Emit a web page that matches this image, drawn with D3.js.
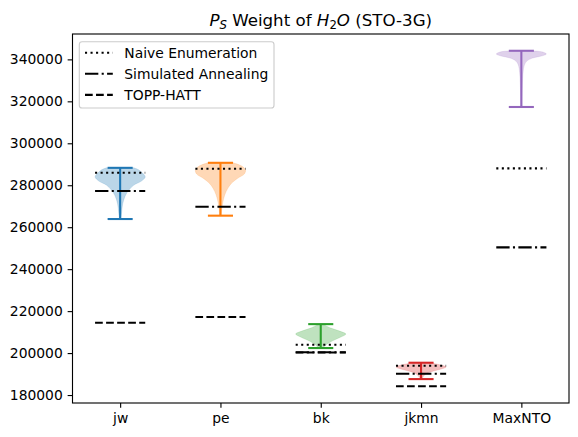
<!DOCTYPE html>
<html>
<head>
<meta charset="utf-8">
<script src="https://cdn.jsdelivr.net/npm/d3@7"></script>
<style>
body { margin: 0; background: #fff; }
text { font-family: "DejaVu Sans", sans-serif; fill: #000; }
</style>
</head>
<body>
<div id="chart"></div>
<script>
var categories = ["jw", "pe", "bk", "jkmn", "MaxNTO"]
var colors = ["#1f77b4", "#ff7f0e", "#2ca02c", "#d62728", "#9467bd"]

// extremes of each violin (the caps)
var sample_min = [263900, 265500, 202400, 187600, 317300]
var sample_max = [288300, 290700, 213800, 195400, 344100]

// reference results drawn as horizontal lines (null = no value)
var naive_enum = [285960, 287870, 203980, 193960, 288060]
var sim_anneal = [277240, 269760, 200400, 190150, 250400]
var topp_hatt = [214460, 217170, 200300, 184200, null]

// violin outlines: [value, relative half width]
var profile_jw = [[288300, 0.55], [287250, 0.75], [285340, 0.93], [283910, 1.0], [282000, 0.85],
  [280100, 0.55], [277720, 0.35], [274860, 0.2], [271040, 0.1], [267230, 0.06], [263900, 0.03]]
var profile_pe = [[290700, 0.5], [289150, 0.85], [287250, 1.0], [285340, 0.95], [283430, 0.7],
  [281050, 0.45], [278660, 0.3], [275330, 0.17], [271520, 0.09], [268180, 0.05], [265500, 0.03]]
var profile_bk = [[213800, 0.08], [211930, 0.4], [210500, 0.75], [209070, 1.0], [207640, 0.8],
  [205730, 0.45], [203830, 0.2], [202400, 0.08]]
var profile_jkmn = [[195400, 0.3], [194290, 0.8], [193340, 1.0], [192390, 0.8], [191440, 0.5],
  [190490, 0.25], [189050, 0.1], [187600, 0.04]]
var profile_maxnto = [[344100, 0.4], [343500, 0.85], [342550, 1.0], [341590, 0.8], [340640, 0.45],
  [339210, 0.22], [337300, 0.12], [333970, 0.07], [327770, 0.04], [320620, 0.025], [317300, 0.02]]
var profiles = [profile_jw, profile_pe, profile_bk, profile_jkmn, profile_maxnto]

var y_ticks = d3.range(180000, 340001, 20000)

var width = 578
var height = 437
var margin = {left: 72.5, right: 9, top: 34, bottom: 34}
var pt = 100 / 72 // matplotlib points -> pixels
var lw = 1.5 * pt

var svg = d3.select("#chart")
  .append("svg")
    .attr("width", width)
    .attr("height", height)

// x: positions 1..5, widths 0.5, matplotlib 5% margins
var x = d3.scaleLinear()
  .domain([0.75 - 0.225, 5.25 + 0.225])
  .range([margin.left, width - margin.right])

var all_vals = sample_min.concat(sample_max, naive_enum, sim_anneal, topp_hatt.filter(function(d) { return d != null }))
var lo = d3.min(all_vals), hi = d3.max(all_vals)
var pad = (hi - lo) * 0.05
var y = d3.scaleLinear()
  .domain([lo - pad, hi + pad])
  .range([height - margin.bottom, margin.top])

// violins
var area = d3.area()
  .y(function(d) { return y(d[0]) })
  .curve(d3.curveCatmullRom)

profiles.forEach(function(prof, i) {
  var pos = i + 1
  area.x0(function(d) { return x(pos - 0.25 * d[1]) })
      .x1(function(d) { return x(pos + 0.25 * d[1]) })
  svg.append("path")
    .attr("d", area(prof))
    .attr("fill", colors[i])
    .attr("fill-opacity", 0.3)
    .attr("stroke", colors[i])
    .attr("stroke-opacity", 0.3)
    .attr("stroke-width", 0.5)
})

// bars and caps
categories.forEach(function(c, i) {
  var pos = i + 1
  var g = svg.append("g").attr("stroke", colors[i]).attr("stroke-width", lw)
  g.append("line")
    .attr("x1", x(pos)).attr("x2", x(pos))
    .attr("y1", y(sample_min[i])).attr("y2", y(sample_max[i]))
  ;[sample_min[i], sample_max[i]].forEach(function(v) {
    g.append("line")
      .attr("x1", x(pos - 0.125)).attr("x2", x(pos + 0.125))
      .attr("y1", y(v)).attr("y2", y(v))
  })
})

// method lines
var methods = [
  {name: "Naive Enumeration", values: naive_enum, dash: [1 * lw, 1.65 * lw]},
  {name: "Simulated Annealing", values: sim_anneal, dash: [6.4 * lw, 1.6 * lw, 1 * lw, 1.6 * lw]},
  {name: "TOPP-HATT", values: topp_hatt, dash: [3.7 * lw, 1.6 * lw]}
]

methods.forEach(function(m) {
  m.values.forEach(function(v, i) {
    if (v == null) return
    svg.append("line")
      .attr("x1", x(i + 1 - 0.25)).attr("x2", x(i + 1 + 0.25))
      .attr("y1", y(v)).attr("y2", y(v))
      .attr("stroke", "black")
      .attr("stroke-width", lw)
      .attr("stroke-dasharray", m.dash.join(","))
  })
})

// axes
var tick_len = 3.5 * pt
var x_axis = svg.append("g")
  .attr("transform", "translate(0," + (height - margin.bottom) + ")")
  .call(d3.axisBottom(x)
    .tickValues([1, 2, 3, 4, 5])
    .tickFormat(function(d) { return categories[d - 1] })
    .tickSize(tick_len).tickPadding(3.5 * pt).tickSizeOuter(0))

var y_axis = svg.append("g")
  .attr("transform", "translate(" + margin.left + ",0)")
  .call(d3.axisLeft(y)
    .tickValues(y_ticks)
    .tickFormat(d3.format("d"))
    .tickSize(tick_len).tickPadding(3.5 * pt).tickSizeOuter(0))

;[x_axis, y_axis].forEach(function(a) {
  a.select(".domain").remove()
  a.selectAll(".tick line").attr("stroke", "black").attr("stroke-width", 0.8 * pt)
  a.selectAll(".tick text")
    .attr("font-family", "DejaVu Sans")
    .attr("font-size", 10 * pt)
    .attr("fill", "black")
})

// frame
svg.append("rect")
  .attr("x", margin.left).attr("y", margin.top)
  .attr("width", width - margin.left - margin.right)
  .attr("height", height - margin.top - margin.bottom)
  .attr("fill", "none")
  .attr("stroke", "black")
  .attr("stroke-width", 0.8 * pt)

// title with mathtext-like parts
var title = svg.append("text")
  .attr("x", (margin.left + width - margin.right) / 2)
  .attr("y", 26)
  .attr("text-anchor", "middle")
  .attr("font-size", 12 * pt)
title.append("tspan").attr("font-style", "italic").text("P")
title.append("tspan").attr("font-style", "italic").attr("font-size", 8.4 * pt).attr("dy", 3).text("S")
title.append("tspan").attr("dy", -3).text(" Weight of ")
title.append("tspan").attr("font-style", "italic").text("H")
title.append("tspan").attr("font-size", 8.4 * pt).attr("dy", 3).text("2")
title.append("tspan").attr("font-style", "italic").attr("dy", -3).text("O")
title.append("tspan").text(" (STO-3G)")

// legend
var legend = svg.append("g")
legend.append("rect")
  .attr("x", 79.3).attr("y", 41.7)
  .attr("width", 194.7).attr("height", 66.3)
  .attr("rx", 2.8)
  .attr("fill", "white").attr("fill-opacity", 0.8)
  .attr("stroke", "#cccccc").attr("stroke-width", 0.8 * pt)

methods.forEach(function(m, i) {
  var ly = 52.7 + i * 21.1
  legend.append("line")
    .attr("x1", 85).attr("x2", 112.8)
    .attr("y1", ly).attr("y2", ly)
    .attr("stroke", "black")
    .attr("stroke-width", lw)
    .attr("stroke-dasharray", m.dash.join(","))
  legend.append("text")
    .attr("x", 124.3).attr("y", ly + 5)
    .attr("font-size", 10 * pt)
    .text(m.name)
})
</script>
</body>
</html>
